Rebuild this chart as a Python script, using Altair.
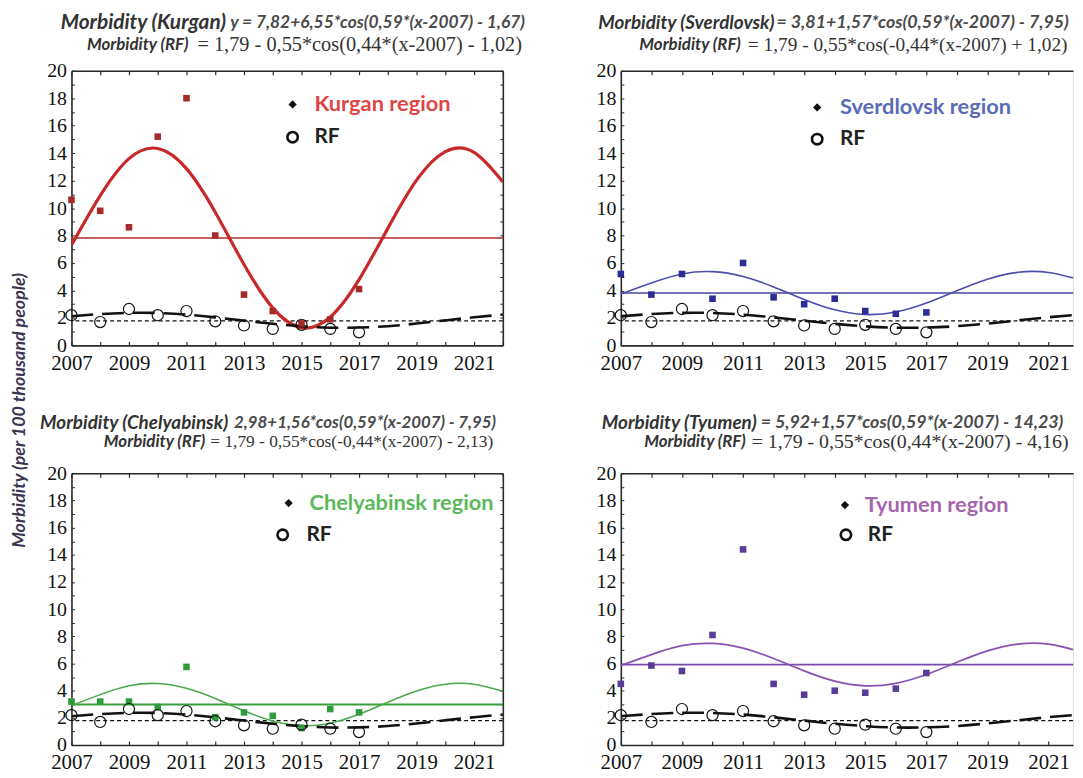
import altair as alt
import pandas as pd

# ---------------- data ----------------
YEARS_OBS = list(range(2007, 2018))
YEARS_FIT = list(range(2007, 2023))
X_LABELS = list(range(2007, 2022, 2))
X_MINOR = list(range(2007, 2023))
Y_LABELS = list(range(0, 21, 2))
Y_MINOR = list(range(0, 21))

RF_OBS = [2.2, 1.7, 2.65, 2.2, 2.5, 1.75, 1.45, 1.2, 1.5, 1.2, 0.95]
RF_FIT = [2.12, 2.28, 2.37, 2.36, 2.24, 2.04, 1.8, 1.57, 1.39, 1.29, 1.3, 1.4, 1.59, 1.82, 2.05, 2.24]
RF_MEAN = 1.79

KURGAN_OBS = [10.6, 9.8, 8.6, 15.2, 18.0, 8.0, 3.7, 2.5, 1.6, 1.9, 4.1]
KURGAN_FIT = [7.3, 10.91, 13.6, 14.34, 12.87, 9.7, 5.89, 2.73, 1.29, 2.07, 4.79, 8.52, 12.03, 14.11, 14.06, 11.91]
KURGAN_MEAN = 7.82

SVERDLOVSK_OBS = [5.2, 3.7, 5.2, 3.4, 6.0, 3.5, 3.0, 3.4, 2.5, 2.3, 2.4]
SVERDLOVSK_FIT = [3.75, 4.55, 5.2, 5.37, 5.02, 4.26, 3.35, 2.59, 2.25, 2.43, 3.08, 3.98, 4.82, 5.32, 5.31, 4.79]
SVERDLOVSK_MEAN = 3.81

CHELYABINSK_OBS = [3.2, 3.2, 3.2, 2.8, 5.75, 2.05, 2.4, 2.15, 1.25, 2.65, 2.4]
CHELYABINSK_FIT = [2.9, 3.71, 4.36, 4.53, 4.18, 3.43, 2.52, 1.77, 1.43, 1.61, 2.26, 3.15, 3.98, 4.48, 4.47, 3.95]
CHELYABINSK_MEAN = 2.98

TYUMEN_OBS = [4.5, 5.85, 5.45, 8.1, 14.4, 4.5, 3.7, 4.0, 3.85, 4.15, 5.3]
TYUMEN_FIT = [5.85, 6.66, 7.31, 7.48, 7.13, 6.37, 5.46, 4.7, 4.36, 4.54, 5.19, 6.09, 6.93, 7.43, 7.42, 6.9]
TYUMEN_MEAN = 5.92

# ---------------- styles ----------------
SERIF = "Liberation Serif"
SANS = "Lato"
FRAME = "#2b2b2b"

PALETTES = {
    "Kurgan": dict(pts="#a52a2a", fit="#c9282a", fit_w=3.2, mean="#b02c2c", mean_w=1.5, legend="#e04545"),
    "Sverdlovsk": dict(pts="#2c2c94", fit="#4d4dae", fit_w=1.6, mean="#4646a6", mean_w=1.6, legend="#5a6cb6"),
    "Chelyabinsk": dict(pts="#2e9c3c", fit="#4caa4c", fit_w=1.6, mean="#3a9c3a", mean_w=2.0, legend="#5cb85c"),
    "Tyumen": dict(pts="#5a3c98", fit="#8a52b2", fit_w=1.8, mean="#7a4aaa", mean_w=1.6, legend="#a566ad"),
}


def txt(s, x, y, align, font, size, weight, style, color):
    return alt.Chart(pd.DataFrame({"k": [0]})).mark_text(
        text=s, align=align, baseline="middle", font=font, fontSize=size,
        fontWeight=weight, fontStyle=style, color=color,
    ).encode(x=alt.value(x), y=alt.value(y))


def panel(name, obs, fit, mean, x_end, width, height, titles, sizes, legend, frame_right):
    pal = PALETTES[name]
    xs = alt.Scale(domain=[2007, x_end], nice=False, zero=False)
    ys = alt.Scale(domain=[0, 20], nice=False, zero=False)
    fit_df = pd.DataFrame({"year": YEARS_FIT, "value": fit, "rf": RF_FIT})
    obs_df = pd.DataFrame({"year": YEARS_OBS, "value": obs, "rf": RF_OBS})
    mean_df = pd.DataFrame({"value": [mean], "rf": [RF_MEAN]})

    ax_x_lab = alt.Axis(orient="bottom", values=X_LABELS, format="d", labelFont=SERIF,
                        labelFontSize=21, labelColor="#111", labelPadding=7, ticks=False,
                        domain=True, domainColor=FRAME, domainWidth=1.6, grid=False, labelFlush=False)
    ax_y_lab = alt.Axis(orient="left", values=Y_LABELS, format="d", labelFont=SERIF,
                        labelFontSize=20, labelColor="#111", labelPadding=5, ticks=False,
                        domain=True, domainColor=FRAME, domainWidth=1.6, grid=False, labelFlush=False)
    ax_x_minor = alt.Axis(orient="bottom", values=X_MINOR, labels=False, domain=False,
                          ticks=True, tickSize=4, tickColor=FRAME, tickWidth=1.2, offset=-4, grid=False)
    ax_y_minor = alt.Axis(orient="left", values=Y_MINOR, labels=False, domain=False,
                          ticks=True, tickSize=3, tickColor=FRAME, tickWidth=1, offset=-3, grid=False)
    ax_x_top = alt.Axis(orient="top", values=X_MINOR, labels=False, domain=True, domainColor=FRAME,
                        domainWidth=1.6, ticks=False, grid=False)
    ax_x_top_minor = alt.Axis(orient="top", values=X_MINOR, labels=False, domain=False,
                              ticks=True, tickSize=4, tickColor=FRAME, tickWidth=1.2, offset=-4, grid=False)
    if frame_right:
        ax_y_right = alt.Axis(orient="right", values=Y_MINOR, labels=False, domain=True,
                              domainColor=FRAME, domainWidth=1.6, ticks=False, grid=False)
        ax_y_right_minor = alt.Axis(orient="right", values=Y_MINOR, labels=False, domain=False,
                                    ticks=True, tickSize=3, tickColor=FRAME, tickWidth=1,
                                    offset=-3, grid=False)
    else:
        ax_y_right = None
        ax_y_right_minor = None

    mean_line = alt.Chart(mean_df).mark_rule(color=pal["mean"], strokeWidth=pal["mean_w"]).encode(
        y=alt.Y("value:Q", scale=ys, axis=None))
    rf_mean = alt.Chart(mean_df).mark_rule(color="#111", strokeDash=[4, 3], strokeWidth=1.3).encode(
        y=alt.Y("rf:Q", scale=ys, axis=None))
    fit_line = alt.Chart(fit_df).mark_line(color=pal["fit"], strokeWidth=pal["fit_w"],
                                           interpolate="natural", clip=True).encode(
        x=alt.X("year:Q", scale=xs, axis=ax_x_lab, title=None),
        y=alt.Y("value:Q", scale=ys, axis=ax_y_lab, title=None))
    rf_line = alt.Chart(fit_df).mark_line(color="#111", strokeWidth=2.6, strokeDash=[22, 9],
                                          interpolate="natural", clip=True).encode(
        x=alt.X("year:Q", scale=xs, axis=ax_x_minor, title=None),
        y=alt.Y("rf:Q", scale=ys, axis=ax_y_minor, title=None))
    obs_pts = alt.Chart(obs_df).mark_square(size=44, color=pal["pts"], opacity=1).encode(
        x=alt.X("year:Q", scale=xs, axis=ax_x_top, title=None),
        y=alt.Y("value:Q", scale=ys, axis=ax_y_right, title=None))
    rf_pts = alt.Chart(obs_df).mark_point(shape="circle", size=125, filled=False, color="#111",
                                          strokeWidth=1.2, opacity=1).encode(
        x=alt.X("year:Q", scale=xs, axis=ax_x_top_minor, title=None),
        y=alt.Y("rf:Q", scale=ys, axis=ax_y_right_minor, title=None))

    (s1a, s1b, y1, head1, form1), (s2a, s2b, y2, form2) = titles
    h1, f1, f2 = sizes
    deco = [
        txt(head1, s1a, y1, "right", SANS, h1, "bold", "italic", "#333333"),
        txt(form1, s1b, y1, "left", SANS, f1, "bold", "italic", "#4a4a4a"),
        txt("Morbidity (RF)", s2a, y2, "right", SANS, 17, "bold", "italic", "#333333"),
        txt(form2, s2b, y2, "left", SERIF, f2, "normal", "normal", "#333333"),
    ]
    (mx1, my1, tx1), (mx2, my2, tx2) = legend
    dummy = pd.DataFrame({"k": [0]})
    deco += [
        alt.Chart(dummy).mark_point(shape="diamond", filled=True, color="#111", size=70, opacity=1)
        .encode(x=alt.value(mx1), y=alt.value(my1)),
        txt(f"{name} region", tx1, my1, "left", SANS, 22, "bold", "normal", pal["legend"]),
        alt.Chart(dummy).mark_point(shape="circle", filled=False, color="#111", size=110,
                                    strokeWidth=2.6, opacity=1)
        .encode(x=alt.value(mx2), y=alt.value(my2)),
        txt("RF", tx2, my2, "left", SANS, 21, "bold", "normal", "#222222"),
    ]

    return alt.layer(mean_line, rf_mean, fit_line, rf_line, obs_pts, rf_pts, *deco).resolve_axis(
        x="independent", y="independent").properties(width=width, height=height)


LEFT_W, RIGHT_W = 435, 456
TOP_H, BOT_H = 277, 274

tl = panel("Kurgan", KURGAN_OBS, KURGAN_FIT, KURGAN_MEAN, 2022, LEFT_W, TOP_H,
           ((156, 160, -48, "Morbidity (Kurgan)", "y = 7,82+6,55*cos(0,59*(x-2007) - 1,67)"),
            (118, 127, -26, "= 1,79 - 0,55*cos(0,44*(x-2007) - 1,02)")),
           (21, 17.5, 20.5),
           ((223, 34, 245), (223, 67, 245)), True)
tr = panel("Sverdlovsk", SVERDLOVSK_OBS, SVERDLOVSK_FIT, SVERDLOVSK_MEAN, 2021.8, RIGHT_W, TOP_H,
           ((155, 157, -48, "Morbidity (Sverdlovsk)", "= 3,81+1,57*cos(0,59*(x-2007) - 7,95)"),
            (121, 128, -26, "= 1,79 - 0,55*cos(-0,44*(x-2007) + 1,02)")),
           (19, 18, 19.5),
           ((198, 37, 221), (198, 69, 221)), False)
bl = panel("Chelyabinsk", CHELYABINSK_OBS, CHELYABINSK_FIT, CHELYABINSK_MEAN, 2022, LEFT_W, BOT_H,
           ((158, 164, -51, "Morbidity (Chelyabinsk)", "2,98+1,56*cos(0,59*(x-2007) - 7,95)"),
            (135, 140, -32, "= 1,79 - 0,55*cos(-0,44*(x-2007) - 2,13)")),
           (19, 17, 17.5),
           ((219, 30, 240), (213, 62, 237)), True)
br = panel("Tyumen", TYUMEN_OBS, TYUMEN_FIT, TYUMEN_MEAN, 2021.8, RIGHT_W, BOT_H,
           ((137, 141, -51, "Morbidity (Tyumen)", "= 5,92+1,57*cos(0,59*(x-2007) - 14,23)"),
            (126, 132, -32, "= 1,79 - 0,55*cos(0,44*(x-2007) - 4,16)")),
           (19, 18, 20),
           ((226, 32, 246), (227, 62, 249)), False)

chart = alt.concat(
    tl, tr, bl, br, columns=2,
    spacing={"row": 129, "column": 119},
    bounds="flush", align="each",
).properties(
    title=alt.TitleParams(
        text="Morbidity (per 100 thousand people)", orient="left", anchor="middle",
        font=SANS, fontSize=18, fontWeight="bold", fontStyle="italic", color="#3a3552",
        offset=10, dx=-18,
    ),
    padding={"left": 3, "top": 0, "right": 0, "bottom": 0},
).configure_view(strokeWidth=0).configure(background="white")

chart.save("out.html", embed_options={"renderer": "svg", "actions": False})
